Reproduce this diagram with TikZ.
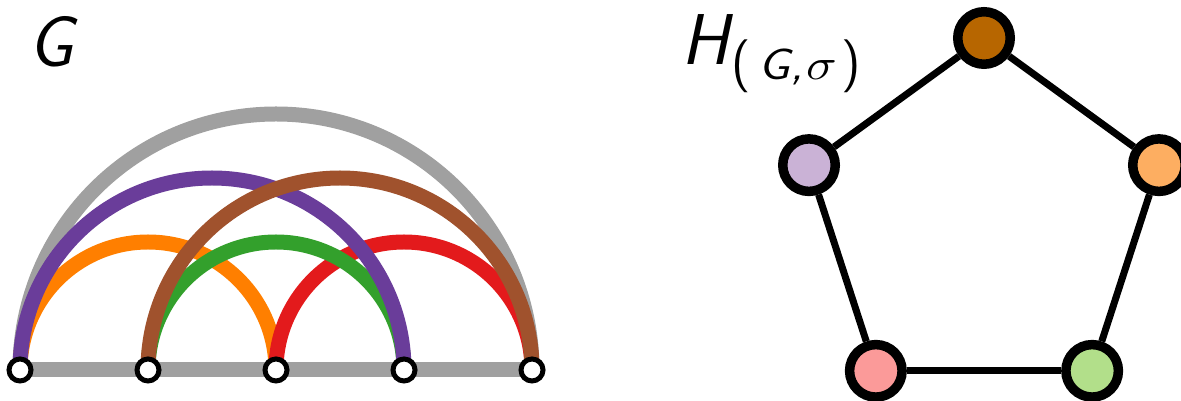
\documentclass[tikz,border=0pt]{standalone}
\usepackage{fontspec}
\newfontfamily\lmmath{Latin Modern Math}
\usetikzlibrary{calc}
\definecolor{arcgray}{RGB}{160,160,160}
\definecolor{arcpurple}{RGB}{106,61,154}
\definecolor{arcbrown}{RGB}{160,82,45}
\definecolor{arcorange}{RGB}{255,127,0}
\definecolor{arcgreen}{RGB}{51,160,44}
\definecolor{arcred}{RGB}{227,26,28}
\definecolor{ntop}{RGB}{183,102,0}
\definecolor{nlav}{RGB}{202,178,214}
\definecolor{nlorange}{RGB}{253,174,97}
\definecolor{npink}{RGB}{251,154,153}
\definecolor{nlgreen}{RGB}{178,223,138}
\tikzset{
  arcline/.style={line width=15pt},
  gvert/.style={circle, draw=black, fill=white, line width=5pt, minimum size=22pt, inner sep=0pt},
  hvert/.style={circle, draw=black, line width=9.5pt, minimum size=52.5pt, inner sep=0pt},
  hedge/.style={line width=7pt, black},
  lbl/.style={inner sep=0pt, font=\fontsize{72}{72}\selectfont\sffamily\itshape}
}
\begin{document}
\begin{tikzpicture}[x=1pt,y=1pt]
\useasboundingbox (0,0) rectangle (1181,401);
% left graph G
\coordinate (p1) at (20,31);
\coordinate (p2) at (148,31);
\coordinate (p3) at (276,31);
\coordinate (p4) at (404,31);
\coordinate (p5) at (532,31);
\draw[line width=15pt, arcgray] (p1) -- (p5);
\draw[arcline, arcgray] (p1) arc[start angle=180, end angle=0, radius=256];
\draw[arcline, arcorange] (p1) arc[start angle=180, end angle=0, radius=128];
\draw[arcline, arcred] (p3) arc[start angle=180, end angle=0, radius=128];
\draw[arcline, arcgreen] (p2) arc[start angle=180, end angle=0, radius=128];
\draw[arcline, arcpurple] (p1) arc[start angle=180, end angle=0, radius=192];
\draw[arcline, arcbrown] (p2) arc[start angle=180, end angle=0, radius=192];
\foreach \i in {1,...,5} { \node[gvert] (v\i) at (p\i) {}; }
\node[lbl, anchor=base west] (gl) at (28,334) {G};
% right graph H
\coordinate (hc) at (984,179);
\node[hvert, fill=ntop] (ht) at ($(hc)+(90:184)$) {};
\node[hvert, fill=nlav] (hl) at ($(hc)+(162:184)$) {};
\node[hvert, fill=npink] (hbl) at ($(hc)+(234:184)$) {};
\node[hvert, fill=nlgreen] (hbr) at ($(hc)+(306:184)$) {};
\node[hvert, fill=nlorange] (hr) at ($(hc)+(18:184)$) {};
\draw[hedge] (ht) -- (hl);
\draw[hedge] (hl) -- (hbl);
\draw[hedge] (hbl) -- (hbr);
\draw[hedge] (hbr) -- (hr);
\draw[hedge] (hr) -- (ht);
\node[lbl, anchor=base west] (hl2) at (681,336) {H\raisebox{-15pt}{\fontsize{53}{53}\selectfont\upshape\hspace{3pt}(\hspace{7pt}\scalebox{1.15}[1]{\fontsize{44}{44}\selectfont\itshape G,\hspace{3pt}{\lmmath 𝜎}}\hspace{6pt})}};
\end{tikzpicture}
\end{document}
